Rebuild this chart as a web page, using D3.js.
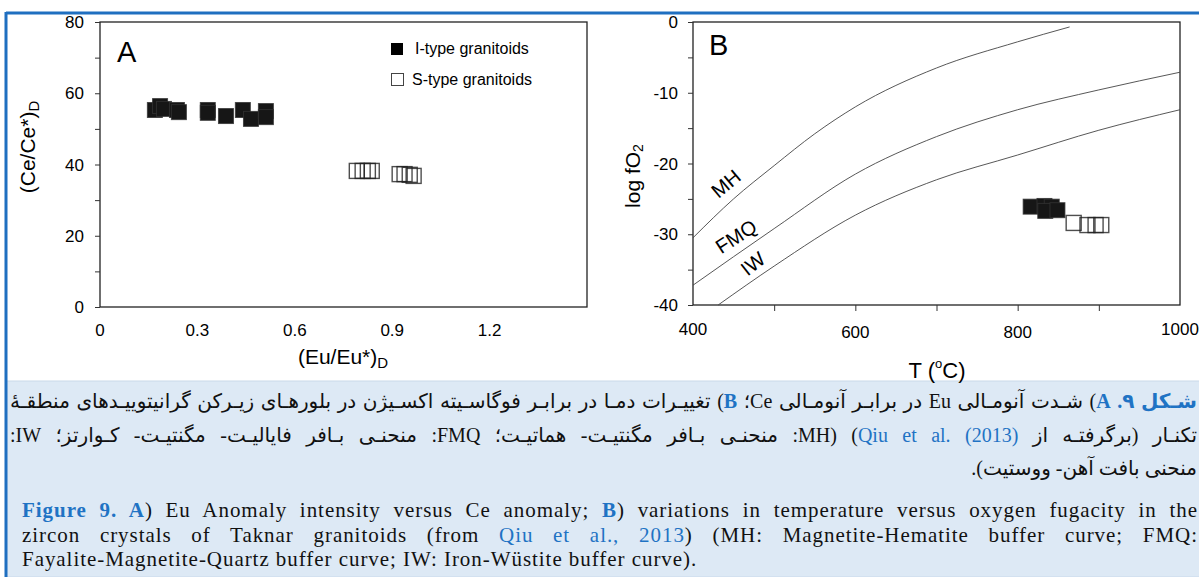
<!DOCTYPE html>
<html lang="fa">
<head>
  <meta charset="utf-8">
  <title>Figure 9</title>
  <style>
    body { margin: 0; background: #fff; }
    #wrap { position: relative; width: 1199px; height: 577px; overflow: hidden; }
    svg { position: absolute; left: 0; top: 0; }
    .cap { position: absolute; white-space: nowrap; }
    .fa { direction: rtl; font-family: "Liberation Serif", "DejaVu Sans", serif; font-size: 20px; color: #111; }
    .en { direction: ltr; font-family: "Liberation Serif", serif; font-size: 21px; letter-spacing: 0.95px; color: #111; }
    .just { text-align: justify; text-align-last: justify; }
    .blue { color: #1f73c4; }
    .bb { color: #1f73c4; font-weight: bold; }
  </style>
</head>
<body>
<div id="wrap"></div>
<script src="https://cdnjs.cloudflare.com/ajax/libs/d3/7.8.5/d3.min.js"></script>
<script>

  // panel A : Eu anomaly vs Ce anomaly
  var iTypeEu = [0.169, 0.185, 0.197, 0.237, 0.243, 0.332, 0.332, 0.388, 0.440, 0.465, 0.511, 0.511];
  var iTypeCe = [55.3, 56.4, 55.6, 55.3, 54.7, 55.3, 54.5, 53.6, 55.3, 52.8, 55.0, 53.3];
  var sTypeEu = [0.791, 0.809, 0.825, 0.837, 0.923, 0.938, 0.954, 0.966];
  var sTypeCe = [38.2, 38.2, 38.2, 38.2, 37.3, 37.3, 37.1, 36.8];

  // panel B : T vs log fO2
  var iTypeT = [816, 833, 842, 834, 849];
  var iTypeO2 = [-26.1, -26.0, -26.1, -26.7, -26.6];
  var sTypeT = [869, 886, 896, 903];
  var sTypeO2 = [-28.4, -28.7, -28.7, -28.7];

  // buffer curves
  var mhT = [400, 450, 500, 550, 600, 700, 800, 864];
  var mhO2 = [-30.5, -25, -20.3, -15.8, -12, -6.5, -2.8, -0.7];
  var fmqT = [400, 500, 600, 700, 800, 900, 1000];
  var fmqO2 = [-37.2, -29.2, -21.5, -16.2, -12.4, -9.6, -7.1];
  var iwT = [431, 500, 600, 700, 800, 900, 1000];
  var iwO2 = [-40, -34.5, -27.3, -22.3, -18.8, -15.3, -12.4];

  var ticksA_x = [0, 0.3, 0.6, 0.9, 1.2];
  var ticksA_y = [0, 20, 40, 60, 80];
  var ticksB_x = [400, 600, 800, 1000];
  var ticksB_y = [0, -10, -20, -30, -40];

  var W = 1199, H = 577;
  var wrap = d3.select("#wrap");
  var svg = wrap.append("svg").attr("width", W).attr("height", H);

  // caption background and blue frame
  svg.append("rect").attr("x", 6).attr("y", 381).attr("width", W).attr("height", H - 381)
    .attr("fill", "#dde9f5").attr("stroke", "#c9d9ea").attr("stroke-width", 1);
  svg.append("line").attr("x1", 6).attr("x2", W).attr("y1", 13).attr("y2", 13)
    .attr("stroke", "#1f6fc0").attr("stroke-width", 3);
  svg.append("line").attr("x1", 6).attr("x2", 6).attr("y1", 12).attr("y2", H)
    .attr("stroke", "#1f6fc0").attr("stroke-width", 3);

  var font = "'Liberation Sans', Arial, sans-serif";

  function frame(g, x, y) {
    var r = x.range(), d = y.range();
    g.append("rect").attr("x", r[0]).attr("y", d[1]).attr("width", r[1] - r[0]).attr("height", d[0] - d[1])
      .attr("fill", "#fff").attr("stroke", "#222").attr("stroke-width", 1.3);
  }

  function squares(g, xs, ys, x, y, filled) {
    g.selectAll(null).data(xs).enter().append("rect")
      .attr("x", function(d) { return x(d) - 7.5; })
      .attr("y", function(d, i) { return y(ys[i]) - 7.5; })
      .attr("width", 15).attr("height", 15)
      .attr("fill", filled ? "#161616" : "none")
      .attr("stroke", filled ? "#333" : "#222")
      .attr("stroke-width", filled ? 1 : 1.4)
      .attr("stroke-opacity", 0.8);
  }

  // ---------- panel A ----------
  var xA = d3.scaleLinear().domain([0, 1.5]).range([100, 587]);
  var yA = d3.scaleLinear().domain([0, 80]).range([307, 22]);
  var gA = svg.append("g");
  frame(gA, xA, yA);

  gA.append("g").attr("transform", "translate(100,0)")
    .call(d3.axisLeft(yA).tickValues(d3.range(0, 81, 10)).tickSize(5).tickFormat(""))
    .call(function(a) { a.select(".domain").remove(); a.selectAll("line").attr("stroke", "#333"); });
  gA.selectAll(".ylab").data(ticksA_y).enter().append("text")
    .attr("x", 84).attr("y", function(d) { return yA(d) + 6; })
    .attr("text-anchor", "end").attr("font-family", font).attr("font-size", 17).text(function(d) { return d; });
  gA.selectAll(".xlab").data(ticksA_x).enter().append("text")
    .attr("x", function(d) { return xA(d); }).attr("y", 336)
    .attr("text-anchor", "middle").attr("font-family", font).attr("font-size", 17).text(function(d) { return d; });

  var yt = gA.append("text").attr("transform", "translate(35,147) rotate(-90)")
    .attr("text-anchor", "middle").attr("font-family", font).attr("font-size", 21);
  yt.append("tspan").text("(Ce/Ce*)");
  yt.append("tspan").attr("font-size", 15).attr("dy", 4).text("D");
  var xt = gA.append("text").attr("x", 343).attr("y", 364)
    .attr("text-anchor", "middle").attr("font-family", font).attr("font-size", 21);
  xt.append("tspan").text("(Eu/Eu*)");
  xt.append("tspan").attr("font-size", 15).attr("dy", 4).text("D");

  gA.append("text").attr("x", 117).attr("y", 62).attr("font-family", font).attr("font-size", 29).text("A");

  squares(gA, iTypeEu, iTypeCe, xA, yA, true);
  squares(gA, sTypeEu, sTypeCe, xA, yA, false);

  // legend
  var leg = gA.append("g");
  leg.append("rect").attr("x", 391).attr("y", 43).attr("width", 12).attr("height", 12).attr("fill", "#000");
  leg.append("rect").attr("x", 391.5).attr("y", 73.5).attr("width", 12).attr("height", 12)
    .attr("fill", "#fff").attr("stroke", "#444").attr("stroke-width", 1);
  leg.append("text").attr("x", 415).attr("y", 54).attr("font-family", font).attr("font-size", 16).text("I-type granitoids");
  leg.append("text").attr("x", 412).attr("y", 85).attr("font-family", font).attr("font-size", 16).text("S-type granitoids");

  // ---------- panel B ----------
  var xB = d3.scaleLinear().domain([400, 1000]).range([693, 1180]);
  var yB = d3.scaleLinear().domain([-40, 0]).range([305, 22]);
  var gB = svg.append("g");
  frame(gB, xB, yB);

  gB.append("g").attr("transform", "translate(693,0)")
    .call(d3.axisLeft(yB).tickValues(d3.range(-40, 1, 5)).tickSize(5).tickFormat(""))
    .call(function(a) { a.select(".domain").remove(); a.selectAll("line").attr("stroke", "#333"); });
  gB.append("g").attr("transform", "translate(0,305)")
    .call(d3.axisBottom(xB).tickValues([500, 600, 700, 800, 900]).tickSize(6).tickFormat(""))
    .call(function(a) { a.select(".domain").remove(); a.selectAll("line").attr("stroke", "#333"); });
  gB.selectAll(".ylab").data(ticksB_y).enter().append("text")
    .attr("x", 678).attr("y", function(d) { return yB(d) + 6; })
    .attr("text-anchor", "end").attr("font-family", font).attr("font-size", 17).text(function(d) { return d; });
  gB.selectAll(".xlab").data(ticksB_x).enter().append("text")
    .attr("x", function(d) { return xB(d); }).attr("y", function(d, i) { return (i == 1 || i == 2) ? 338 : 335; })
    .attr("text-anchor", "middle").attr("font-family", font).attr("font-size", 17).text(function(d) { return d; });

  var yt2 = gB.append("text").attr("transform", "translate(640,176) rotate(-90)")
    .attr("text-anchor", "middle").attr("font-family", font).attr("font-size", 21);
  yt2.append("tspan").text("log fO");
  yt2.append("tspan").attr("font-size", 14).attr("dy", 3).text("2");
  var xt2 = gB.append("text").attr("x", 937).attr("y", 378)
    .attr("text-anchor", "middle").attr("font-family", font).attr("font-size", 22);
  xt2.append("tspan").text("T (");
  xt2.append("tspan").attr("font-size", 13).attr("dy", -10).text("o");
  xt2.append("tspan").attr("dy", 10).text("C)");

  gB.append("text").attr("x", 709).attr("y", 55).attr("font-family", font).attr("font-size", 29).text("B");

  var line = d3.line().curve(d3.curveMonotoneX)
    .x(function(d) { return xB(d[0]); }).y(function(d) { return yB(d[1]); });
  [[mhT, mhO2], [fmqT, fmqO2], [iwT, iwO2]].forEach(function(c) {
    gB.append("path").datum(d3.zip(c[0], c[1])).attr("d", line)
      .attr("fill", "none").attr("stroke", "#444").attr("stroke-width", 0.9);
  });

  function curveLabel(t, x, y, ang) {
    gB.append("text").attr("transform", "translate(" + x + "," + y + ") rotate(" + ang + ")")
      .attr("text-anchor", "middle").attr("dominant-baseline", "middle")
      .attr("font-family", font).attr("font-size", 20).text(t);
  }
  curveLabel("MH", 727, 185, -40);
  curveLabel("FMQ", 737, 238, -33);
  curveLabel("IW", 754, 265, -38);

  squares(gB, iTypeT, iTypeO2, xB, yB, true);
  squares(gB, sTypeT, sTypeO2, xB, yB, false);

  // ---------- caption ----------
  function cap(cls, left, top, width, html) {
    wrap.append("div").attr("class", "cap " + cls)
      .style("left", left + "px").style("top", top + "px").style("width", width + "px")
      .html(html);
  }
  cap("fa just", 10, 389, 1187,
    '<span class="bb">شـکل ۹. A</span>) شـدت آنومـالی Eu در برابـر آنومـالی Ce؛ <span class="bb">B</span>) تغییـرات دمـا در برابـر فوگاسـیته اکسـیژن در بلورهـای زیـرکن گرانیتوییـدهای منطقـۀ');
  cap("fa just", 10, 423, 1187,
    'تکنـار (برگرفتـه از <span class="blue">Qiu et al. (2013)</span>) (MH: منحنـی بـافر مگنتیـت- هماتیـت؛ FMQ: منحنـی بـافر فایالیـت- مگنتیـت- کـوارتز؛ IW:');
  cap("fa", 10, 456, 1187, 'منحنی بافت آهن- ووستیت).');
  cap("en just", 22, 498, 1176,
    '<span class="bb">Figure 9. A</span>) Eu Anomaly intensity versus Ce anomaly; <span class="bb">B</span>) variations in temperature versus oxygen fugacity in the');
  cap("en just", 22, 523, 1176,
    'zircon crystals of Taknar granitoids (from <span class="blue">Qiu et al., 2013</span>) (MH: Magnetite-Hematite buffer curve; FMQ:');
  cap("en", 22, 547, 1176, 'Fayalite-Magnetite-Quartz buffer curve; IW: Iron-Wüstite buffer curve).');

</script>
</body>
</html>
